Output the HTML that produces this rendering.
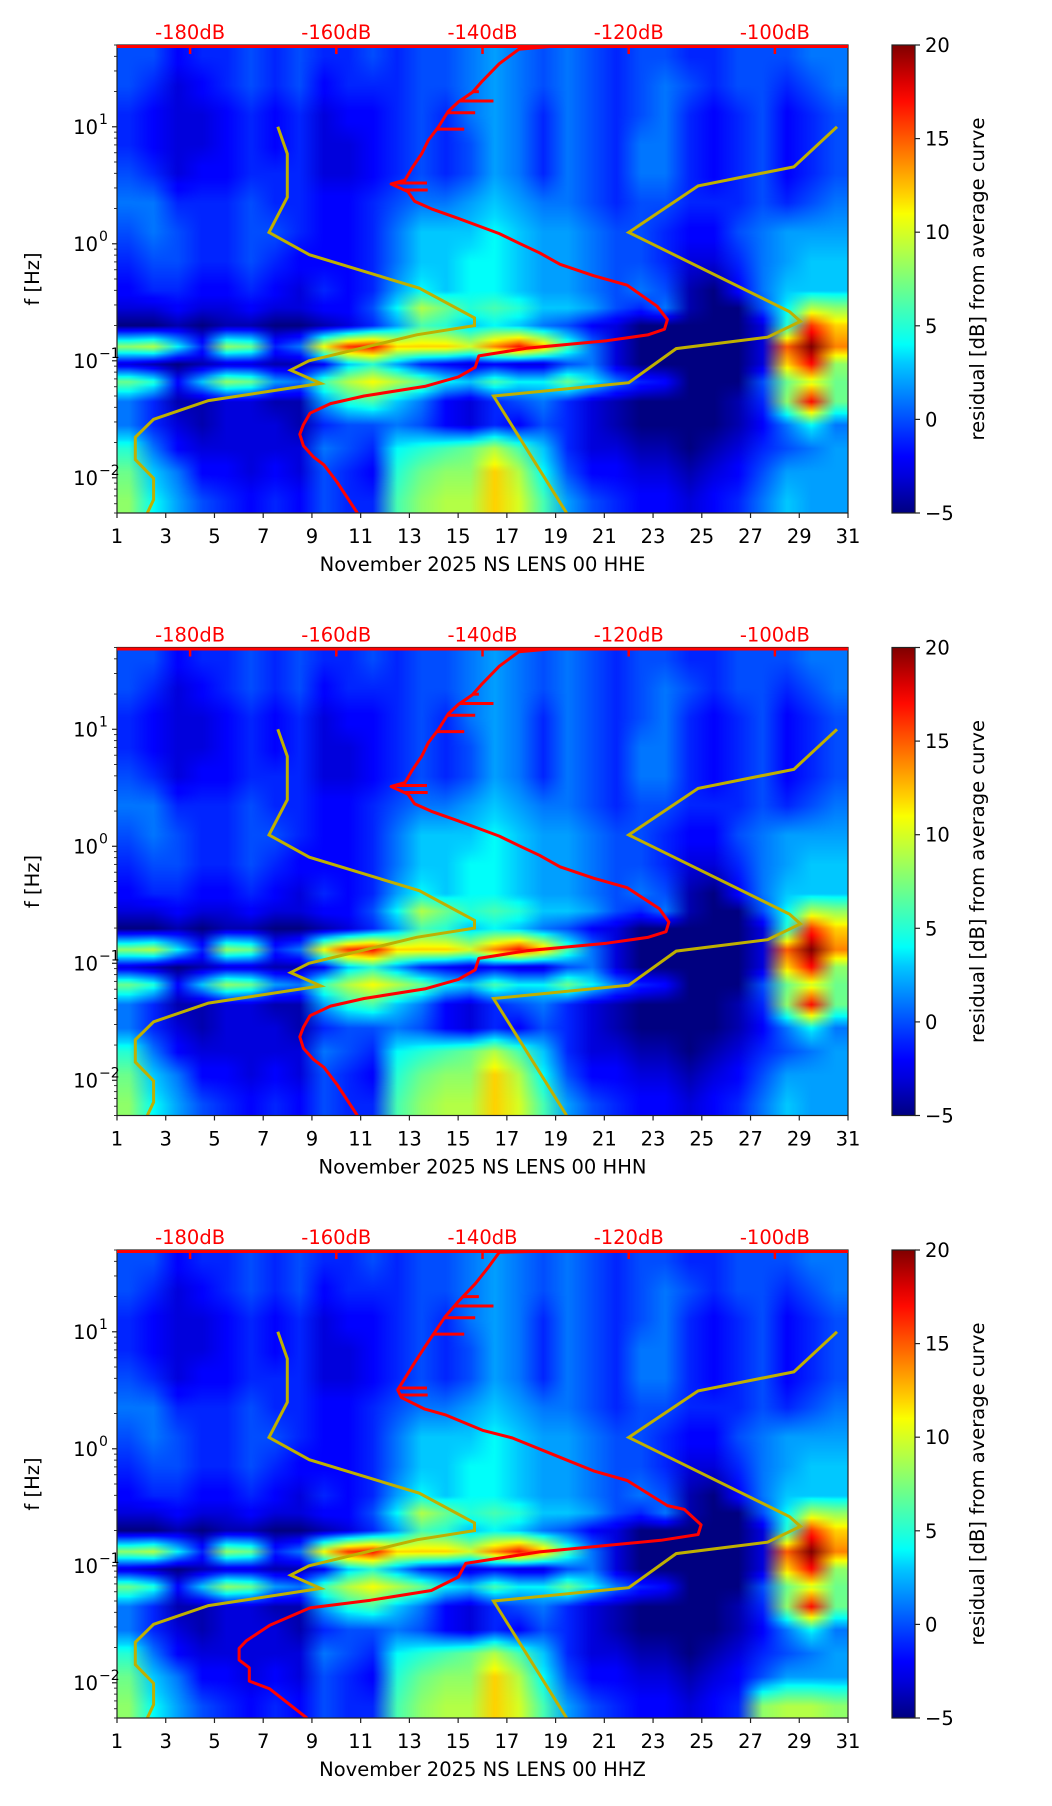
<!DOCTYPE html>
<html><head><meta charset="utf-8">
<style>
html,body{margin:0;padding:0;background:#fff;}
#wrap{position:relative;width:1052px;height:1806px;overflow:hidden;font-family:"DejaVu Sans","Liberation Sans",sans-serif;}
canvas{position:absolute;}
svg{position:absolute;left:0;top:0;}
</style></head>
<body>
<div id="wrap">
<canvas id="hm0"></canvas>
<canvas id="hm1"></canvas>
<canvas id="hm2"></canvas>
<svg id="svg" width="1052" height="1806" xmlns="http://www.w3.org/2000/svg"></svg>
</div>
<script>
// ---- data ----
const dayTicks = [1,3,5,7,9,11,13,15,17,19,21,23,25,27,29,31];
const dbTicks = [-180,-160,-140,-120,-100];
const cbTicks = [20,15,10,5,0,-5];
const yDecades = [-2,-1,0,1];
const channels = ["HHE","HHN","HHZ"];
// heatmap row centres (log10 Hz) and residual dB per day (30 cols)
const rowLogF = [1.6,1.35,1.1,0.85,0.6,0.35,0.1,-0.15,-0.4,-0.55,-0.70,-0.88,-1.03,-1.18,-1.35,-1.55,-1.75,-1.95,-2.2];
const r0 = [0,0,-2,-1,-1,0,-1,0,-1,-1,0,-1,0,0,1,2,1,0,1,0,-1,0,0,-1,-1,0,0,0,1,1];
const r1 = [0,-1,-3,-2,-1,0,-1,0,-2,-1,-1,-1,0,0,1,2,1,0,1,0,-1,0,1,0,-1,0,0,-1,0,1];
const r2 = [-1,-2,-3,-3,-2,-1,-2,-1,-3,-2,-2,-1,0,-1,1,2,1,-1,1,0,-1,0,1,-1,-2,-1,0,-2,-1,0];
const r3 = [-1,-2,-3,-3,-2,-1,-2,-1,-3,-3,-2,-1,0,-1,0,2,1,-1,1,0,-1,1,1,-1,-2,-1,0,-2,-1,0];
const r4 = [0,-1,-3,-2,-2,-1,-1,-1,-3,-3,-2,-1,0,-1,0,2,1,-1,1,0,-1,1,1,-1,-2,-1,0,-2,-1,0];
const r5 = [1,1,-1,-1,-1,0,-1,-1,-2,-2,-1,0,1,1,2,3,2,1,1,0,-1,0,0,-1,-1,-1,0,-1,0,1];
const r6 = [0,1,0,-1,-1,0,0,-1,-2,-2,-1,1,3,3,3,4,3,2,2,1,0,0,-1,-2,-2,0,1,2,2,2];
const r7 = [-1,0,0,-1,-1,0,-1,-2,-2,-2,-1,1,3,3,4,4,3,2,2,1,0,0,-1,-3,-3,-1,1,2,3,3];
const r8 = [-2,-1,-1,-2,-2,-1,-2,-3,-1,-2,-1,2,4,3,4,4,3,2,2,1,0,1,0,-4,-5,-2,1,3,3,3];
const r9 = [-3,-3,-2,-3,-3,-2,-3,-3,-2,-2,0,4,9,7,5,6,5,3,3,2,0,-1,1,-4,-5,-5,0,4,9,8];
const r9b = [-5,-5,-4,-5,-4,-4,-5,-5,-4,-3,-1,2,6,5,3,4,3,1,0,-2,-3,-5,-5,-5,-5,-5,-3,5,16,12];
const r10 = [8,9,4,-1,8,7,-1,1,11,16,17,12,12,12,10,14,17,13,6,1,-3,-5,-5,-5,-5,-5,-3,15,20,14];
const r10b = [-3,-4,-5,-4,-3,-3,-4,-4,-2,3,5,2,-1,-2,-3,-2,-3,-3,0,1,-3,-5,-5,-5,-5,-5,-3,12,17,8];
const r11 = [7,5,-2,3,8,7,2,1,6,9,11,9,7,4,3,6,4,4,7,4,1,-1,-2,-5,-5,-5,0,7,10,7];
const r11b = [1,-1,-4,-4,-3,-3,-4,-4,2,5,6,3,1,-2,-3,-1,0,1,-1,-3,-4,-5,-5,-5,-5,-4,-1,8,17,7];
const r12 = [1,-1,-3,-4,-3,-3,-3,-4,-1,0,0,1,0,-2,-3,-1,-2,0,-1,-3,-4,-5,-5,-5,-5,-4,-2,1,4,1];
const r13 = [5,1,-2,-3,-3,-3,-3,-3,1,0,-1,4,5,6,7,9,6,3,-1,-3,-3,-4,-4,-5,-4,-3,-1,0,1,2];
const r14 = [7,3,1,-2,-2,-3,-2,-3,0,-1,-2,5,7,8,8,12,9,4,0,-2,-2,-3,-3,-4,-3,-2,0,2,2,2];
const r15 = [8,4,2,0,-1,-2,-1,-2,0,-1,-1,6,8,9,9,12,10,6,2,0,-1,-2,-2,-3,-2,-1,1,3,2,2];
const r15z = [8,4,2,0,-1,-2,-1,-2,0,-1,-1,6,8,9,9,12,10,6,2,0,-1,-2,-2,-3,-2,-1,8,9,9,8];
// Peterson noise models (freq Hz, dB)
const nlnmF = [10,5.88,2.5,1.25,0.806,0.417,0.2326,0.2,0.1667,0.1,0.0833,0.0641,0.0457,0.0316,0.0222,0.0143,0.0099,0.0065,0.005];
const nlnmDb = [-168.0,-166.7,-166.7,-169.2,-163.7,-148.65,-141.1,-141.1,-149.0,-163.75,-166.25,-162.13,-177.5,-185.0,-187.5,-187.5,-185.0,-185.0,-185.85];
const nhnmF = [10,4.545,3.125,1.25,0.263,0.217,0.159,0.127,0.065,0.05,0.005];
const nhnmDb = [-91.5,-97.4,-110.5,-120.0,-98.0,-96.5,-101.0,-113.5,-120.0,-138.5,-128.5];
// average PSD curves (log10 f, dB)
const psdLogF1 = [1.699,1.69,1.663,1.539,1.392,1.294,1.213,1.131,1.001,0.886,0.772,0.642,0.544,0.511,0.446,0.364,0.299,0.217,0.152,0.087,0.005,-0.077,-0.175,-0.273,-0.354,-0.534,-0.648,-0.730,-0.779,-0.828,-0.893,-0.958,-1.056,-1.138,-1.219,-1.301,-1.366,-1.448,-1.546,-1.628,-1.726,-1.823,-1.889,-2.036,-2.303];
const psdDb1 = [-89.8,-130,-135.0,-137.7,-140.0,-141.4,-143.3,-144.7,-146.0,-147.4,-148.3,-149.7,-150.6,-152.5,-150.2,-149.3,-147.0,-143.3,-140.5,-137.7,-135.0,-132.2,-129.4,-124.8,-120.2,-116.1,-114.7,-115.1,-117.4,-123.0,-134.0,-140.5,-141.0,-143.3,-147.9,-156.2,-160.8,-163.6,-164.5,-165.0,-164.5,-163.1,-161.7,-159.9,-157.1];
const psdDb2 = [-89.8,-130,-135.0,-137.7,-140.0,-141.4,-143.3,-144.7,-146.0,-147.4,-148.3,-149.7,-150.6,-152.5,-150.2,-149.3,-147.0,-143.3,-140.5,-137.7,-135.0,-132.2,-129.4,-124.8,-120.2,-115.8,-114.5,-114.9,-117.4,-123.0,-134.0,-140.5,-141.0,-143.3,-147.9,-156.2,-160.8,-163.6,-164.5,-165.0,-164.5,-163.1,-161.7,-159.9,-157.1];
const psdLogF3 = [1.699,1.69,1.68,1.56,1.41,1.26,1.13,1.00,0.87,0.735,0.603,0.504,0.438,0.339,0.29,0.158,0.092,-0.073,-0.189,-0.271,-0.486,-0.518,-0.65,-0.733,-0.782,-0.881,-0.98,-1.096,-1.211,-1.294,-1.36,-1.508,-1.64,-1.706,-1.805,-1.871,-1.986,-2.052,-2.303];
const psdDb3 = [-89.8,-130,-137.7,-139.1,-141.0,-143.3,-145.1,-146.5,-147.9,-149.3,-150.6,-151.6,-151.1,-147.9,-145.1,-140.0,-135.9,-129.4,-124.8,-120.2,-114.7,-112.4,-110.1,-110.5,-115.6,-132.2,-142.3,-143.3,-147.0,-155.3,-163.6,-169.1,-172.3,-173.3,-173.3,-171.9,-171.9,-169.1,-164.0];
const spikeLogF = [0.46,0.52,0.98,1.12,1.22,1.3];
const spikeDb = [-147.5,-147.6,-142.5,-141.0,-138.5,-140.5];

// ---- layout ----
const L=117, W=731, H=468, tops=[45,647.5,1250];
const LOGTOP=Math.log10(50), LOGBOT=Math.log10(0.005);
const xDay=d=>L+(d-1)/30*W;
const xDb=db=>L+(db+190)/100*W;
const yLog=(lf,t)=>t+(LOGTOP-lf)/(LOGTOP-LOGBOT)*H;
const NS="http://www.w3.org/2000/svg";
const svg=document.getElementById('svg');
function mk(tag,attrs,parent,text){const e=document.createElementNS(NS,tag);for(const k in attrs)e.setAttribute(k,attrs[k]);if(text!==undefined)e.textContent=text;(parent||svg).appendChild(e);return e;}

function jet(v){
  let t=Math.max(0,Math.min(1,(v+5)/25));
  const st=[[0,0,0,128],[0.11,0,0,255],[0.125,0,0,255],[0.34,0,220,255],[0.36,0,255,250],[0.5,125,255,122],[0.64,250,255,0],[0.66,255,230,0],[0.89,255,0,0],[1,128,0,0]];
  for(let i=1;i<st.length;i++){if(t<=st[i][0]){const a=st[i-1],b=st[i];const f=(t-a[0])/(b[0]-a[0]||1);return `rgb(${Math.round(a[1]+f*(b[1]-a[1]))},${Math.round(a[2]+f*(b[2]-a[2]))},${Math.round(a[3]+f*(b[3]-a[3]))})`;}}
  return 'rgb(128,0,0)';
}

const gridA=[r0,r1,r2,r3,r4,r5,r6,r7,r8,r9,r9b,r10,r10b,r11,r11b,r12,r13,r14,r15];
const gridZ=[r0,r1,r2,r3,r4,r5,r6,r7,r8,r9,r9b,r10,r10b,r11,r11b,r12,r13,r14,r15z];
const grids=[gridA,gridA,gridZ];
const curvesF=[psdLogF1,psdLogF1,psdLogF3];
const curvesDb=[psdDb1,psdDb2,psdDb3];

for(let p=0;p<3;p++){
  const top=tops[p];
  const cv=document.getElementById('hm'+p);
  cv.width=W;cv.height=H;cv.style.left=L+'px';cv.style.top=top+'px';
  const off=document.createElement('canvas');const g=grids[p];
  off.width=30;off.height=H;const oc=off.getContext('2d');
  for(let y=0;y<H;y++){
    const lf=LOGTOP-(y+0.5)/H*(LOGTOP-LOGBOT);
    let i=0;while(i<rowLogF.length-1&&rowLogF[i+1]>lf)i++;
    let a=i,b=Math.min(i+1,rowLogF.length-1),f=0;
    if(lf>=rowLogF[0]){a=b=0;}else if(lf<=rowLogF[rowLogF.length-1]){a=b=rowLogF.length-1;}else{f=(rowLogF[a]-lf)/(rowLogF[a]-rowLogF[b]);}
    for(let c=0;c<30;c++){const v=g[a][c]+f*(g[b][c]-g[a][c]);oc.fillStyle=jet(v);oc.fillRect(c,y,1,1);}
  }
  const ctx=cv.getContext('2d');ctx.imageSmoothingEnabled=true;ctx.imageSmoothingQuality='high';
  ctx.drawImage(off,0,0,W,H);

  const grp=mk('g',{});
  
  
  const cid='clip'+p;
  const cp=mk('clipPath',{id:cid},grp);mk('rect',{x:L,y:top,width:W,height:H},cp);
  const toPts=(fs,ds)=>fs.map((f,i)=>xDb(ds[i]).toFixed(1)+','+yLog(Math.log10(f),top).toFixed(1)).join(' ');
  const nl=mk('polyline',{points:toPts(nlnmF,nlnmDb),fill:'none',stroke:'#bfb000','stroke-width':3,'clip-path':`url(#${cid})`},grp);
  
  const nh=mk('polyline',{points:toPts(nhnmF,nhnmDb),fill:'none',stroke:'#bfb000','stroke-width':3,'clip-path':`url(#${cid})`},grp);
  
  const lf=curvesF[p],db=curvesDb[p];
  const pts=lf.map((f,i)=>xDb(db[i]).toFixed(1)+','+yLog(f,top).toFixed(1)).join(' ');
  const pc=mk('polyline',{points:pts,fill:'none',stroke:'#ff0000','stroke-width':3,'stroke-linejoin':'round','clip-path':`url(#${cid})`},grp);
  
  spikeLogF.forEach((sf,i)=>{
    let d0=db[db.length-1];
    for(let k=1;k<lf.length;k++){if(lf[k]<=sf&&lf[k-1]>=sf){const f=(sf-lf[k-1])/(lf[k]-lf[k-1]);d0=db[k-1]+f*(db[k]-db[k-1]);break;}}
    const s=mk('line',{x1:xDb(d0),x2:xDb(spikeDb[i]),y1:yLog(sf,top),y2:yLog(sf,top),stroke:'#ff0000','stroke-width':3},grp);
    
  });
  const fr=mk('rect',{x:L,y:top,width:W,height:H,fill:'none',stroke:'#222','stroke-width':1.2},grp);
  
  mk('line',{x1:L,x2:L+W,y1:top+1.5,y2:top+1.5,stroke:'#ff0000','stroke-width':3},grp);
  dayTicks.forEach(d=>{
    mk('line',{x1:xDay(d),x2:xDay(d),y1:top+H,y2:top+H+5,stroke:'#222','stroke-width':1.2},grp);
    const t=mk('text',{x:xDay(d),y:top+H+30,'text-anchor':'middle','font-size':19.5,fill:'#000'},grp,String(d));
    
  });
  const xl=mk('text',{x:L+W/2,y:top+H+58,'text-anchor':'middle','font-size':19.5,fill:'#000'},grp,'November 2025 NS LENS 00 '+channels[p]);
  
  dbTicks.forEach(d=>{
    mk('line',{x1:xDb(d),x2:xDb(d),y1:top,y2:top+9,stroke:'#ff0000','stroke-width':2.5},grp);
    const t=mk('text',{x:xDb(d),y:top-6,'text-anchor':'middle','font-size':19.5,fill:'#ff0000'},grp,d+'dB');
    
  });
  for(let dec=-3;dec<=1;dec++){for(let m=1;m<10;m++){const lv=dec+Math.log10(m);if(lv<LOGBOT-1e-6||lv>LOGTOP+1e-6)continue;const y=yLog(lv,top);
    mk('line',{x1:L-(m===1?5:3),x2:L,y1:y,y2:y,stroke:'#222','stroke-width':m===1?1.2:0.9},grp);}}
  yDecades.forEach(e=>{
    const y=yLog(e,top);
    const t=mk('text',{x:98,y:y+7,'text-anchor':'end','font-size':19.5,fill:'#000'},grp,'10');
    
    mk('text',{x:99,y:y-3,'text-anchor':'start','font-size':14,fill:'#000'},grp,e<0?'\u2212'+(-e):String(e));
  });
  const yl=mk('text',{x:0,y:0,transform:`translate(39,${top+H/2}) rotate(-90)`,'text-anchor':'middle','font-size':19.5,fill:'#000'},grp,'f [Hz]');
  
  const gid='cb'+p;const lg=mk('linearGradient',{id:gid,x1:0,y1:1,x2:0,y2:0},grp);
  for(let i=0;i<=25;i++){mk('stop',{offset:(i/25).toFixed(3),'stop-color':jet(-5+i)},lg);}
  const cb=mk('rect',{x:892,y:top,width:23,height:H,fill:`url(#${gid})`,stroke:'#222','stroke-width':1.2},grp);
  
  cbTicks.forEach(v=>{const y=top+(20-v)/25*H;
    mk('line',{x1:915,x2:920,y1:y,y2:y,stroke:'#222','stroke-width':1.2},grp);
    const t=mk('text',{x:925,y:y+7,'font-size':19.5,fill:'#000'},grp,v<0?'\u2212'+(-v):String(v));
    
  });
  const cl=mk('text',{x:0,y:0,transform:`translate(984,${top+H/2}) rotate(-90)`,'text-anchor':'middle','font-size':19.5,fill:'#000'},grp,'residual [dB] from average curve');
  
}
</script>
</body></html>
